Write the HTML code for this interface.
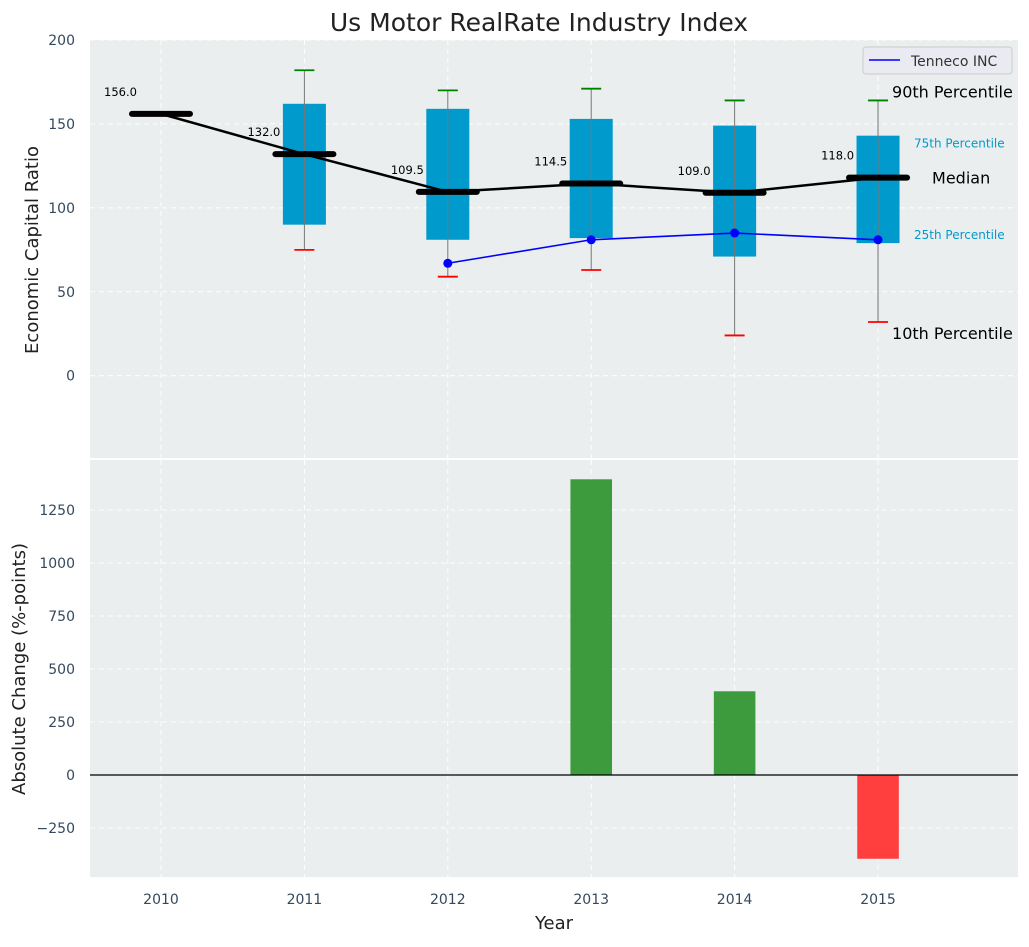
<!DOCTYPE html>
<html><head><meta charset="utf-8">
<style>
body{margin:0;background:#fff;font-family:"Liberation Sans","DejaVu Sans",sans-serif;}
svg text{font-family:"DejaVu Sans","Liberation Sans",sans-serif;}
</style></head>
<body>
<svg id="chart" width="1029" height="942" xmlns="http://www.w3.org/2000/svg"></svg>
<script>
const years=[2010,2011,2012,2013,2014,2015];
const medians=[156,132,109.5,114.5,109,118];
const p25=[null,90,81,82,71,79];
const p75=[null,162,159,153,149,143];
const p10=[null,75,59,63,24,32];
const p90=[null,182,170,171,164,164];
const tennecoYears=[2012,2013,2014,2015];
const tenneco=[67,81,85,81];
const changeYears=[2013,2014,2015];
const changes=[1395,395,-395];
const topTicks=[0,50,100,150,200];
const botTicks=[-250,0,250,500,750,1000,1250];

const NS="http://www.w3.org/2000/svg";
const svg=document.getElementById('chart');
function el(tag,attrs,parent){const e=document.createElementNS(NS,tag);for(const k in attrs)e.setAttribute(k,attrs[k]);(parent||svg).appendChild(e);return e;}
const L=90,R=1018;
const X0=2009.505,X1=2015.976;
const x=v=>L+(v-X0)/(X1-X0)*(R-L);
const T0=40,T1=458;
const yT=v=>T0+(200-v)/(200+49)*(T1-T0);
const B0=460,B1=877;
const yB=v=>B0+(1486-v)/(1486+481)*(B1-B0);

let r=el('rect',{x:L,y:T0,width:R-L,height:T1-T0,fill:'#eaeeee'});

r=el('rect',{x:L,y:B0,width:R-L,height:B1-B0,fill:'#eaeeee'});


years.forEach(yr=>{
 el('line',{x1:x(yr),x2:x(yr),y1:T0,y2:T1,stroke:'#fff','stroke-dasharray':'5,4','stroke-width':1});
 el('line',{x1:x(yr),x2:x(yr),y1:B0,y2:B1,stroke:'#fff','stroke-dasharray':'5,4','stroke-width':1});
 const t=el('text',{x:x(yr),y:904,'text-anchor':'middle','font-size':14,fill:'#34495e'});t.textContent=yr;
 
});
topTicks.forEach(v=>{
 el('line',{x1:L,x2:R,y1:yT(v),y2:yT(v),stroke:'#fff','stroke-dasharray':'5,4'});
 const t=el('text',{x:75,y:yT(v)+5,'text-anchor':'end','font-size':14,fill:'#34495e'});t.textContent=v;
 
});
botTicks.forEach(v=>{
 el('line',{x1:L,x2:R,y1:yB(v),y2:yB(v),stroke:'#fff','stroke-dasharray':'5,4'});
 const t=el('text',{x:75,y:yB(v)+5,'text-anchor':'end','font-size':14,fill:'#34495e'});t.textContent=v<0?'\u2212'+(-v):v;
 
});

const bw=(x(2011)-x(2010))*0.3;
years.forEach((yr,i)=>{
 if(p25[i]==null)return;
 const cx=x(yr);
 const b=el('rect',{x:cx-bw/2,y:yT(p75[i]),width:bw,height:yT(p25[i])-yT(p75[i]),fill:'#009acd'});
 
 el('line',{x1:cx,x2:cx,y1:yT(p90[i]),y2:yT(p10[i]),stroke:'#777','stroke-width':1});
 el('line',{x1:cx-10,x2:cx+10,y1:yT(p90[i]),y2:yT(p90[i]),stroke:'green','stroke-width':1.8});
 el('line',{x1:cx-10,x2:cx+10,y1:yT(p10[i]),y2:yT(p10[i]),stroke:'red','stroke-width':1.8});
});
let pts=years.map((yr,i)=>x(yr)+','+yT(medians[i])).join(' ');
let pl=el('polyline',{points:pts,fill:'none',stroke:'#000','stroke-width':2.5});

years.forEach((yr,i)=>{
 const cx=x(yr),cy=yT(medians[i]);
 const m=el('line',{x1:cx-29,x2:cx+29,y1:cy,y2:cy,stroke:'#000','stroke-width':6,'stroke-linecap':'round'});
 
 const t=el('text',{x:cx-24,y:cy-18,'text-anchor':'end','font-size':11.5,fill:'#000'});t.textContent=medians[i].toFixed(1);
 
});
pts=tennecoYears.map((yr,i)=>x(yr)+','+yT(tenneco[i])).join(' ');
pl=el('polyline',{points:pts,fill:'none',stroke:'#0000ff','stroke-width':1.6});

tennecoYears.forEach((yr,i)=>{const c=el('circle',{cx:x(yr),cy:yT(tenneco[i]),r:4.5,fill:'#0000ff'});
 });

const lx=x(2015);
function ann(txt,xx,yy,size,color,name){const t=el('text',{x:xx,y:yy,'font-size':size,fill:color});t.textContent=txt;}
ann('90th Percentile',lx+14,yT(p90[5])-3,16,'#000','annotation-90th');
ann('75th Percentile',lx+36,yT(p75[5])+12,12,'#009acd','annotation-75th');
ann('Median',lx+54,yT(medians[5])+6,16,'#000','annotation-median');
ann('25th Percentile',lx+36,yT(p25[5])-4,12,'#009acd','annotation-25th');
ann('10th Percentile',lx+14,yT(p10[5])+17,16,'#000','annotation-10th');

const lg=el('g',{});
el('rect',{x:863,y:47,width:149,height:27,rx:3,fill:'#eaeaf2',stroke:'#ccc'},lg);
el('line',{x1:869,x2:900,y1:60,y2:60,stroke:'#0000ff','stroke-width':1.6},lg);
const lt=el('text',{x:911,y:66,'font-size':14,fill:'#333'},lg);lt.textContent='Tenneco INC';

const bbw=(x(2011)-x(2010))*0.29;
changeYears.forEach((yr,i)=>{
 const v=changes[i];
 const b=el('rect',{x:x(yr)-bbw/2,y:Math.min(yB(v),yB(0)),width:bbw,height:Math.abs(yB(v)-yB(0)),fill:v>=0?'#3d9b3d':'#ff3e3e'});
 
});
el('line',{x1:L,x2:R,y1:yB(0),y2:yB(0),stroke:'#000','stroke-width':1.2});

ann('Us Motor RealRate Industry Index',0,0,25,'#222','chart-title');
let tt=svg.lastChild;tt.setAttribute('x',539);tt.setAttribute('y',31);tt.setAttribute('text-anchor','middle');
const yl1=el('text',{x:0,y:0,'font-size':18,fill:'#222','text-anchor':'middle',transform:'translate(38,250) rotate(-90)'});yl1.textContent='Economic Capital Ratio';

const yl2=el('text',{x:0,y:0,'font-size':18,fill:'#222','text-anchor':'middle',transform:'translate(25,669) rotate(-90)'});yl2.textContent='Absolute Change (%-points)';

const xl=el('text',{x:554,y:929,'font-size':18,fill:'#222','text-anchor':'middle'});xl.textContent='Year';

</script>
</body></html>
